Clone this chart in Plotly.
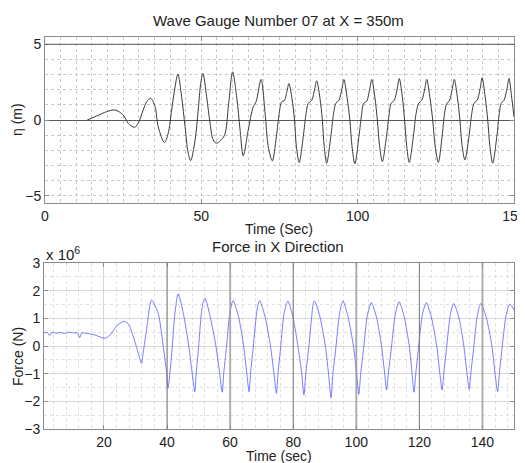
import plotly.graph_objects as go

# ---------------- data ----------------
# Wave gauge 07 surface elevation (m) vs time (s)
eta_t = [13.5, 16.5, 19.7, 22.4, 25.0, 26.6, 28.6, 29.8, 31.4, 32.5, 33.8, 35.2, 36.2, 38.2,
         39.4, 40.5, 41.6, 42.5, 43.7, 44.8, 45.8, 46.6, 48.0, 49.0, 49.8, 50.5, 51.7, 52.8,
         53.8, 54.9, 57.3, 58.7, 60.0, 61.3, 62.4, 63.4, 65.0, 66.6, 67.5, 69.1, 70.4, 71.4,
         72.7, 74.0, 74.9, 75.7, 76.6, 77.4, 78.0, 79.0, 79.8, 80.4, 81.3,
         82.6, 83.5, 84.2, 85.3, 86.3, 86.9, 87.9, 88.7, 89.3, 90.1,
         91.4, 92.3, 93.0, 94.0, 95.0, 95.6, 96.6, 97.5, 98.2, 99.1,
         100.4, 101.3, 101.9, 102.9, 103.9, 104.5, 105.5, 106.3, 107.0, 107.9,
         109.2, 110.1, 110.7, 111.7, 112.7, 113.3, 114.3, 115.0, 115.7, 116.5,
         117.8, 118.7, 119.5, 120.5, 121.5, 122.1, 123.1, 124.0, 124.8, 125.8,
         127.0, 127.8, 128.5, 129.3, 130.3, 130.9, 131.9, 132.7, 133.4, 134.3,
         135.6, 136.5, 137.2, 138.2, 139.2, 139.8, 140.8, 141.6, 142.3, 143.2,
         144.5, 145.3, 145.9, 146.8, 147.8, 148.4, 149.2, 150.0]
eta_v = [0.0, 0.26, 0.55, 0.66, 0.33, -0.22, -0.48, -0.22, 0.66, 1.2, 1.43, 0.88, -0.44, -1.49,
         -0.88, 0.66, 2.19, 3.03, 1.53, -0.44, -2.19, -2.68, -1.32, 0.66, 2.41, 3.07, 1.53, -0.22,
         -1.32, -1.53, -1.05, 1.0, 3.18, 1.53, -0.66, -2.37, -0.66, 0.88, 1.2, 2.68, 0.44, -1.75,
         -2.7, -1.1, 0.44, 1.2, 1.3, 1.9, 2.41, 1.4, 0.0, -1.75, -2.8,
         -1.1, 0.44, 1.1, 1.3, 2.1, 2.59, 1.5, 0.0, -1.75, -2.85,
         -1.1, 0.44, 1.1, 1.3, 2.1, 2.68, 1.5, 0.0, -1.75, -2.9,
         -1.1, 0.44, 1.1, 1.25, 2.1, 2.68, 1.5, 0.0, -1.7, -2.74,
         -1.1, 0.44, 1.1, 1.3, 2.1, 2.74, 1.5, 0.0, -1.75, -2.8,
         -1.1, 0.44, 1.1, 1.3, 2.1, 2.68, 1.5, 0.0, -1.75, -2.8,
         -1.1, 0.44, 1.1, 1.25, 2.1, 2.68, 1.5, 0.0, -1.7, -2.63,
         -1.1, 0.44, 1.1, 1.3, 2.1, 2.79, 1.5, 0.0, -1.75, -2.85,
         -1.1, 0.44, 1.1, 1.3, 2.1, 2.74, 1.6, 0.2]

# Force in X direction (units of 1e6 N) vs time (s)
force_t = [1.0, 2.0, 2.8, 3.6, 5.0, 6.3, 7.5, 9.0, 10.5, 11.6, 12.3, 13.0, 14.5, 15.5, 16.8,
           18.0, 19.2, 20.3, 22.0, 24.0, 26.4, 28.0, 29.3, 30.9, 31.9, 32.5, 33.5, 35.1,
           37.2, 38.8, 39.9, 40.3, 41.4, 42.5, 43.5,
           44.1, 45.3, 46.9, 48.0, 48.8, 49.3, 49.9, 50.9, 51.5, 52.0,
           52.6, 53.8, 55.5, 56.7, 57.5, 58.0, 58.7, 59.8, 60.5, 61.0,
           61.6, 62.8, 64.3, 65.3, 66.0, 66.5, 67.2, 68.3, 68.9, 69.4,
           70.0, 71.2, 72.8, 73.9, 74.7, 75.2, 75.9, 77.0, 77.8, 78.3,
           78.9, 80.0, 81.6, 82.7, 83.4, 84.0, 84.8, 85.9, 86.3, 86.8,
           87.4, 88.6, 90.2, 91.2, 92.0, 92.6, 93.4, 94.6, 95.3, 95.8,
           96.4, 97.5, 99.1, 100.1, 100.8, 101.4, 102.2, 103.5, 104.3, 104.8,
           105.4, 106.5, 108.0, 109.0, 109.6, 110.2, 111.0, 112.3, 113.1, 113.6,
           114.2, 115.3, 116.8, 117.7, 118.3, 118.9, 119.6, 120.9, 121.7, 122.2,
           122.8, 123.9, 125.5, 126.5, 127.2, 127.8, 128.5, 129.7, 130.4, 130.9,
           131.5, 132.6, 134.1, 135.1, 135.8, 136.4, 137.1, 138.3, 139.0, 139.5,
           140.1, 141.3, 143.0, 144.0, 144.8, 145.4, 146.1, 147.4, 148.2, 148.7,
           149.3, 150.0]
force_v = [0.47, 0.5, 0.38, 0.49, 0.46, 0.49, 0.45, 0.5, 0.47, 0.48, 0.3, 0.47, 0.46, 0.44, 0.41,
           0.36, 0.31, 0.28, 0.4, 0.72, 0.9, 0.75, 0.34, -0.26, -0.63, -0.2, 0.58, 1.66,
           1.18, -0.02, -0.99, -1.53, -0.39, 1.18, 1.88,
           1.72, 1.1, 0.0, -1.0, -1.65, -0.9, -0.2, 1.2, 1.6, 1.72,
           1.56, 1.0, 0.0, -1.0, -1.67, -0.95, -0.2, 1.1, 1.52, 1.64,
           1.48, 1.0, 0.0, -1.0, -1.65, -0.95, -0.2, 1.1, 1.52, 1.64,
           1.48, 1.0, 0.0, -1.0, -1.71, -0.95, -0.2, 1.1, 1.5, 1.63,
           1.47, 1.0, -0.08, -0.99, -1.77, -1.0, -0.2, 1.1, 1.5, 1.63,
           1.47, 1.0, 0.0, -1.0, -1.87, -1.0, -0.2, 1.1, 1.5, 1.63,
           1.47, 1.0, 0.0, -1.0, -1.75, -1.0, -0.2, 1.1, 1.45, 1.57,
           1.42, 1.0, 0.0, -1.0, -1.59, -0.95, -0.2, 1.1, 1.48, 1.6,
           1.45, 1.0, 0.0, -1.0, -1.67, -0.95, -0.2, 1.1, 1.45, 1.57,
           1.42, 1.0, 0.0, -1.0, -1.59, -0.9, -0.2, 1.05, 1.42, 1.54,
           1.4, 1.0, 0.0, -1.0, -1.57, -0.9, -0.2, 1.05, 1.42, 1.54,
           1.4, 1.0, 0.0, -1.0, -1.65, -0.95, -0.2, 1.05, 1.4, 1.52,
           1.45, 1.3]

top_xticks = [0, 50, 100, 150]
top_yticks = [-5, 0, 5]
bot_xticks = [20, 40, 60, 80, 100, 120, 140]
bot_yticks = [-3, -2, -1, 0, 1, 2, 3]
dark_vlines = [40, 80, 120]
mid_vlines = [60, 100, 140]

# page has an 8px body margin; the figure is sized to fit the 525x463 window
OFF = 8
W, H = 525 - OFF, 463 - OFF
FONT = "Liberation Sans, Arial, sans-serif"


def px(x):
    return (x - OFF) / W


def py(y):
    return 1 - (y - OFF) / H


fig = go.Figure()
fig.add_trace(go.Scatter(x=eta_t, y=eta_v, mode="lines", xaxis="x", yaxis="y",
                         line=dict(color="#3a3a3a", width=1, shape="spline", smoothing=0.9),
                         showlegend=False, hoverinfo="skip"))
fig.add_trace(go.Scatter(x=force_t, y=force_v, mode="lines", xaxis="x2", yaxis="y2",
                         line=dict(color="rgba(70,70,255,0.7)", width=1, shape="spline", smoothing=0.7),
                         showlegend=False, hoverinfo="skip"))

axis_common = dict(showline=True, linecolor="#8c8c8c", linewidth=1, mirror="ticks",
                   ticks="inside", ticklen=4, tickcolor="#8c8c8c", automargin=False,
                   ticklabeloverflow="allow",
                   tickfont=dict(family=FONT, size=14, color="#222"))

fig.update_layout(
    width=W, height=H, margin=dict(l=0, r=0, t=0, b=0),
    paper_bgcolor="white", plot_bgcolor="white", template="none",
    font=dict(family=FONT, size=14, color="#222"),
    xaxis=dict(domain=[px(45), px(514)], anchor="y", range=[-0.001, 150.001],
               tickvals=top_xticks, showgrid=True, gridcolor="#c8c8c8", griddash="dot",
               zeroline=False,
               minor=dict(dtick=5, tick0=0, showgrid=True, gridcolor="#c8c8c8", griddash="dot", ticks=""),
               **axis_common),
    yaxis=dict(domain=[py(203), py(37)], anchor="x", range=[-5.48, 5.48],
               tickvals=top_yticks, showgrid=True, gridcolor="#c8c8c8", griddash="dot",
               zeroline=True, zerolinecolor="#5a5a5a", zerolinewidth=1,
               minor=dict(dtick=1, tick0=0, showgrid=True, gridcolor="#c8c8c8", griddash="dot", ticks=""),
               **axis_common),
    xaxis2=dict(domain=[px(44), px(514)], anchor="y2", range=[1, 150.001],
                tickvals=bot_xticks, showgrid=True, gridcolor="#d6d6d6", griddash="solid",
                zeroline=False,
                minor=dict(dtick=4, tick0=0, showgrid=True, gridcolor="#e0e0e0", griddash="dot", ticks=""),
                **axis_common),
    yaxis2=dict(domain=[py(429), py(263)], anchor="x2", range=[-3.001, 3.001],
                tickvals=bot_yticks, showgrid=True, gridcolor="#d6d6d6", griddash="solid",
                zeroline=False,
                minor=dict(dtick=0.5, tick0=0, showgrid=True, gridcolor="#e0e0e0", griddash="dot", ticks=""),
                **axis_common),
)

shapes = [dict(type="line", xref="x", yref="y", x0=0, x1=150, y0=5, y1=5,
               line=dict(color="#5a5a5a", width=1), layer="above")]
for v in dark_vlines:
    shapes.append(dict(type="line", xref="x2", yref="y2", x0=v, x1=v, y0=-3, y1=3,
                       line=dict(color="#7a7a7a", width=1), layer="above"))
for v in mid_vlines:
    shapes.append(dict(type="line", xref="x2", yref="y2", x0=v, x1=v, y0=-3, y1=3,
                       line=dict(color="rgba(150,150,150,0.7)", width=2), layer="above"))
fig.update_layout(shapes=shapes)

ann = [
    dict(text="Wave Gauge Number 07 at X = 350m", x=px(278), y=py(20), size=15),
    dict(text="Time (Sec)", x=px(279), y=py(229), size=14),
    dict(text="Force in X Direction", x=px(278), y=py(246), size=15),
    dict(text="Time (sec)", x=px(279), y=py(456), size=14),
]
annotations = []
for a in ann:
    annotations.append(dict(text=a["text"], x=a["x"], y=a["y"], xref="paper", yref="paper",
                            showarrow=False, xanchor="center", yanchor="middle",
                            font=dict(family=FONT, size=a["size"], color="#222")))
annotations.append(dict(text="η (m)", x=px(17), y=py(120), xref="paper", yref="paper",
                        showarrow=False, textangle=-90, xanchor="center", yanchor="middle",
                        font=dict(family=FONT, size=14, color="#222")))
annotations.append(dict(text="Force (N)", x=px(18), y=py(357), xref="paper", yref="paper",
                        showarrow=False, textangle=-90, xanchor="center", yanchor="middle",
                        font=dict(family=FONT, size=14, color="#222")))
annotations.append(dict(text="x 10<sup>6</sup>", x=px(44), y=py(253), xref="paper", yref="paper",
                        showarrow=False, xanchor="left", yanchor="middle",
                        font=dict(family=FONT, size=15, color="#222")))
fig.update_layout(annotations=annotations)

fig.write_html("out.html")
